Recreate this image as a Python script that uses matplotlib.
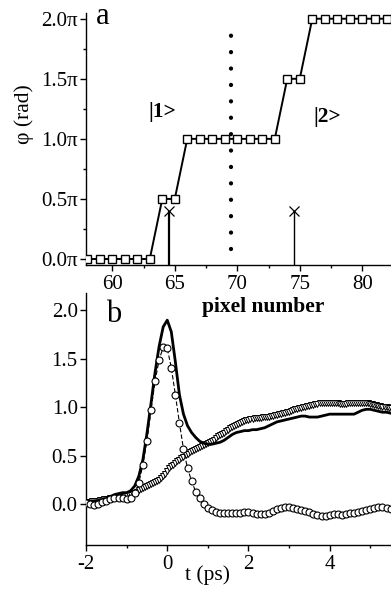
import numpy as np
import matplotlib
matplotlib.use("Agg")
import matplotlib.pyplot as plt
from matplotlib.ticker import MultipleLocator

plt.rcParams['font.family'] = ['Liberation Serif', 'DejaVu Serif']
plt.rcParams['axes.unicode_minus'] = False

# ---------------- panel a: phase per pixel ----------------
pixels = [58, 59, 60, 61, 62, 63, 64, 65, 66, 67, 68, 69, 70, 71, 72, 73,
          74, 75, 76, 77, 78, 79, 80, 81, 82]
phase_pi = [0.0, 0.0, 0.0, 0.0, 0.0, 0.0, 0.5, 0.5, 1.0, 1.0, 1.0, 1.0, 1.0,
            1.0, 1.0, 1.0, 1.5, 1.5, 2.0, 2.0, 2.0, 2.0, 2.0, 2.0, 2.0]
stick_x = [64.5, 74.5]
stick_h = [0.4, 0.4]
stick_w = [1.6, 1.0]
divider_x = 69.5
divider_span = (0.08, 1.95)
a_yticks = [0.0, 0.5, 1.0, 1.5, 2.0]
a_yticklabels = ['0.0π', '0.5π', '1.0π', '1.5π', '2.0π']
a_xticks = [60, 65, 70, 75, 80]

# ---------------- panel b: time traces ----------------
t = [-2.0, -1.9, -1.8, -1.7, -1.6, -1.5, -1.4, -1.3, -1.2, -1.1,
     -1.0, -0.9, -0.8, -0.7, -0.6, -0.5, -0.4, -0.3, -0.2, -0.1,
     0.0, 0.1, 0.2, 0.3, 0.4, 0.5, 0.6, 0.7, 0.8, 0.9,
     1.0, 1.1, 1.2, 1.3, 1.4, 1.5, 1.6, 1.7, 1.8, 1.9,
     2.0, 2.1, 2.2, 2.3, 2.4, 2.5, 2.6, 2.7, 2.8, 2.9,
     3.0, 3.1, 3.2, 3.3, 3.4, 3.5, 3.6, 3.7, 3.8, 3.9,
     4.0, 4.1, 4.2, 4.3, 4.4, 4.5, 4.6, 4.7, 4.8, 4.9,
     5.0, 5.1, 5.2, 5.3, 5.4, 5.5]

solid = [0.03, 0.03, 0.03, 0.04, 0.05, 0.06, 0.08, 0.10, 0.11, 0.12,
         0.12, 0.14, 0.19, 0.29, 0.46, 0.73, 1.04, 1.36, 1.63, 1.83,
         1.90, 1.78, 1.47, 1.13, 0.93, 0.81, 0.74, 0.69, 0.65, 0.63,
         0.62, 0.62, 0.63, 0.64, 0.66, 0.69, 0.72, 0.74, 0.75, 0.76,
         0.76, 0.77, 0.77, 0.78, 0.79, 0.81, 0.83, 0.85, 0.86, 0.87,
         0.88, 0.89, 0.90, 0.91, 0.91, 0.90, 0.90, 0.90, 0.91, 0.92,
         0.93, 0.93, 0.93, 0.93, 0.93, 0.93, 0.93, 0.95, 0.97, 0.98,
         0.98, 0.97, 0.96, 0.95, 0.95, 0.94]

circles = [0.01, 0.00, -0.01, 0.00, 0.02, 0.03, 0.05, 0.06, 0.07, 0.06,
           0.05, 0.07, 0.12, 0.22, 0.41, 0.65, 0.97, 1.27, 1.49, 1.62,
           1.61, 1.41, 1.13, 0.84, 0.57, 0.37, 0.24, 0.13, 0.06, 0.00,
           -0.04, -0.06, -0.08, -0.09, -0.09, -0.09, -0.09, -0.09, -0.09, -0.08,
           -0.08, -0.09, -0.10, -0.10, -0.10, -0.09, -0.07, -0.05, -0.04, -0.03,
           -0.03, -0.04, -0.05, -0.06, -0.07, -0.08, -0.10, -0.11, -0.12, -0.12,
           -0.11, -0.10, -0.10, -0.11, -0.10, -0.09, -0.09, -0.08, -0.07, -0.06,
           -0.05, -0.04, -0.03, -0.03, -0.04, -0.05]

# triangle trace is sampled more densely than the others
t_tri = [-2.0, -1.95, -1.9, -1.85, -1.8, -1.75, -1.7, -1.65, -1.6, -1.55,
         -1.5, -1.45, -1.4, -1.35, -1.3, -1.25, -1.2, -1.15, -1.1, -1.05,
         -1.0, -0.95, -0.9, -0.85, -0.8, -0.75, -0.7, -0.65, -0.6, -0.55,
         -0.5, -0.45, -0.4, -0.35, -0.3, -0.25, -0.2, -0.15, -0.1, -0.05,
         0.0, 0.05, 0.1, 0.15, 0.2, 0.25, 0.3, 0.35, 0.4, 0.45,
         0.5, 0.55, 0.6, 0.65, 0.7, 0.75, 0.8, 0.85, 0.9, 0.95,
         1.0, 1.05, 1.1, 1.15, 1.2, 1.25, 1.3, 1.35, 1.4, 1.45,
         1.5, 1.55, 1.6, 1.65, 1.7, 1.75, 1.8, 1.85, 1.9, 1.95,
         2.0, 2.05, 2.1, 2.15, 2.2, 2.25, 2.3, 2.35, 2.4, 2.45,
         2.5, 2.55, 2.6, 2.65, 2.7, 2.75, 2.8, 2.85, 2.9, 2.95,
         3.0, 3.05, 3.1, 3.15, 3.2, 3.25, 3.3, 3.35, 3.4, 3.45,
         3.5, 3.55, 3.6, 3.65, 3.7, 3.75, 3.8, 3.85, 3.9, 3.95,
         4.0, 4.05, 4.1, 4.15, 4.2, 4.25, 4.3, 4.35, 4.4, 4.45,
         4.5, 4.55, 4.6, 4.65, 4.7, 4.75, 4.8, 4.85, 4.9, 4.95,
         5.0, 5.05, 5.1, 5.15, 5.2, 5.25, 5.3, 5.35, 5.4, 5.45, 5.5]

triangles = [0.02, 0.02, 0.02, 0.03, 0.03, 0.03, 0.03, 0.04, 0.04, 0.05,
             0.05, 0.05, 0.06, 0.07, 0.07, 0.08, 0.08, 0.08, 0.08, 0.09,
             0.09, 0.10, 0.10, 0.11, 0.12, 0.13, 0.15, 0.16, 0.17, 0.18,
             0.19, 0.20, 0.21, 0.22, 0.23, 0.24, 0.25, 0.27, 0.29, 0.31,
             0.34, 0.37, 0.39, 0.41, 0.43, 0.45, 0.46, 0.48, 0.49, 0.51,
             0.52, 0.54, 0.55, 0.56, 0.57, 0.58, 0.59, 0.60, 0.61, 0.62,
             0.63, 0.64, 0.65, 0.66, 0.68, 0.70, 0.71, 0.73, 0.74, 0.76,
             0.77, 0.79, 0.80, 0.81, 0.82, 0.83, 0.84, 0.85, 0.86, 0.87,
             0.87, 0.88, 0.88, 0.89, 0.89, 0.89, 0.89, 0.90, 0.90, 0.90,
             0.90, 0.91, 0.91, 0.92, 0.92, 0.93, 0.93, 0.94, 0.94, 0.95,
             0.95, 0.96, 0.97, 0.98, 0.98, 0.99, 0.99, 1.00, 1.00, 1.01,
             1.01, 1.02, 1.02, 1.03, 1.03, 1.04, 1.04, 1.05, 1.05, 1.05,
             1.05, 1.05, 1.05, 1.04, 1.04, 1.03, 1.03, 1.03, 1.03, 1.04,
             1.04, 1.05, 1.05, 1.05, 1.05, 1.05, 1.05, 1.05, 1.05, 1.04,
             1.03, 1.03, 1.02, 1.02, 1.01, 1.01, 1.00, 1.00, 1.00, 0.99, 0.99]

b_yticks = [0.0, 0.5, 1.0, 1.5, 2.0]
b_xticks = [-2, 0, 2, 4]


def style_axes(ax):
    ax.patch.set_visible(False)
    ax.spines['top'].set_visible(False)
    ax.spines['right'].set_visible(False)
    for s in ('left', 'bottom'):
        ax.spines[s].set_linewidth(1.0)
    ax.tick_params(which='major', direction='out', length=4, width=1.0,
                   labelsize=15, pad=2)
    ax.tick_params(which='minor', direction='out', length=2.2, width=1.0)


fig = plt.figure(figsize=(3.91, 5.97), dpi=100)

# ---- b (drawn first so panel a's x label sits on top) ----
ax_b = fig.add_axes([0.22, 0.0871, 0.78, 0.4221])
ax_b.plot(t_tri, triangles, color='k', lw=0.6, marker='v', ms=4.6,
          mfc='white', mec='k', mew=0.7, zorder=2)
ax_b.plot(t, solid, color='k', lw=2.0, zorder=3)
ax_b.plot(t, circles, color='k', lw=0.8, ls=(0, (4, 2)), marker='o', ms=5,
          mfc='white', mec='k', mew=0.8, zorder=4)

ax_b.set_xlim(-2, 5.51)
ax_b.set_ylim(-0.42, 2.18)
ax_b.set_xticks(b_xticks)
ax_b.xaxis.set_minor_locator(MultipleLocator(1))
ax_b.set_yticks(b_yticks)
style_axes(ax_b)
ax_b.tick_params(axis='x', which='major', pad=3)

ax_b.set_xlabel('t (ps)', fontsize=15.5)
ax_b.xaxis.set_label_coords(0.397, -0.082)
ax_b.text(0.065, 0.885, 'b', transform=ax_b.transAxes, fontsize=22,
          ha='left', va='baseline')

# ---- a ----
ax_a = fig.add_axes([0.22, 0.5561, 0.78, 0.4226])
ax_a.plot(pixels, phase_pi, color='k', lw=1.4, marker='s', ms=5.2,
          mfc='white', mec='k', mew=1.0, zorder=3)
for x, h, w in zip(stick_x, stick_h, stick_w):
    ax_a.vlines(x, -0.05, h, color='k', lw=w, zorder=2)
ax_a.plot(stick_x, stick_h, ls='none', marker='x', ms=6.5, color='k',
          mew=0.9, zorder=2)
ax_a.plot([divider_x, divider_x], divider_span, color='k', lw=3.1,
          ls=(0, (0.01, 3.8)), dash_capstyle='round', zorder=2)

ax_a.set_xlim(57.9, 82.3)
ax_a.set_ylim(-0.05, 2.05)
ax_a.set_xticks(a_xticks)
ax_a.xaxis.set_minor_locator(MultipleLocator(2.5))
ax_a.set_yticks(a_yticks)
ax_a.set_yticklabels(a_yticklabels)
ax_a.yaxis.set_minor_locator(MultipleLocator(0.25))
style_axes(ax_a)
ax_a.tick_params(axis='x', which='major', pad=3)

ax_a.set_xlabel('pixel number', fontsize=15.5, fontweight='bold')
ax_a.xaxis.set_label_coords(0.58, -0.125)
ax_a.set_ylabel('φ (rad)', fontsize=15.5)
ax_a.yaxis.set_label_coords(-0.17, 0.60)

ax_a.text(0.033, 0.955, 'a', transform=ax_a.transAxes, fontsize=22,
          ha='left', va='baseline')
ax_a.text(0.25, 0.605, '|1>', transform=ax_a.transAxes, fontsize=15.5,
          fontweight='bold', ha='center', va='center')
ax_a.text(0.79, 0.585, '|2>', transform=ax_a.transAxes, fontsize=15.5,
          fontweight='bold', ha='center', va='center')

fig.savefig('out.png', dpi=100)
